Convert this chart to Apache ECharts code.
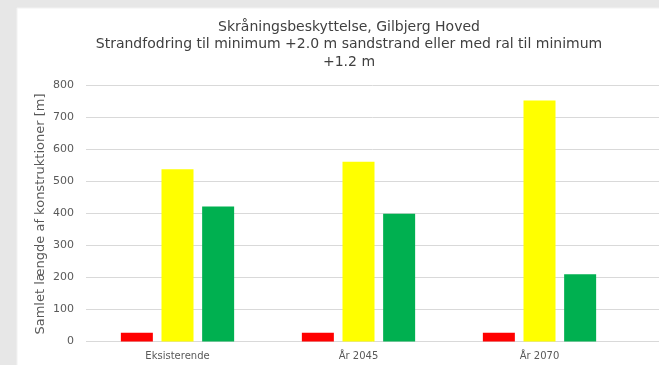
<!DOCTYPE html>
<html>
<head>
<meta charset="utf-8">
<script src="https://cdn.jsdelivr.net/npm/echarts@6/dist/echarts.min.js"></script>
<style>
  html, body { margin: 0; padding: 0; background: #e7e7e7; }
  #chart { width: 659px; height: 365px; }
</style>
</head>
<body>
<div id="chart"></div>
<script>
// Categories and series values (metres of structures)
const categories = ['Eksisterende', 'År 2045', 'År 2070'];
const redValues = [27, 27, 27];
const yellowValues = [538, 562, 753];
const greenValues = [422, 399, 210];
const yTicks = [0, 100, 200, 300, 400, 500, 600, 700, 800];

const titleLines = [
  'Skråningsbeskyttelse, Gilbjerg Hoved',
  'Strandfodring til minimum +2.0 m sandstrand eller med ral til minimum',
  '+1.2 m'
];
const yAxisTitle = 'Samlet længde af konstruktioner [m]';

const chart = echarts.init(document.getElementById('chart'), null, { renderer: 'canvas' });

const textColor = '#595959';
const gridColor = '#d9d9d9';

const option = {
  backgroundColor: '#e7e7e7',
  animation: false,
  graphic: [
    { type: 'rect', z: -10, shape: { x: 17, y: 8, width: 700, height: 400 },
      style: { fill: '#ffffff', stroke: '#f2f2f2', lineWidth: 1 } },
    ...titleLines.map((t, i) => ({
      type: 'text', x: 349, y: 27 + i * 17.5,
      style: { text: t, fill: '#404040', font: '14px "DejaVu Sans"', textAlign: 'center', textVerticalAlign: 'middle' }
    })),
    { type: 'text', x: 41, y: 214, rotation: Math.PI / 2,
      style: { text: yAxisTitle, fill: textColor, font: '13px "DejaVu Sans"', textAlign: 'center', textVerticalAlign: 'middle' } }
  ],
  grid: [
    { left: 86, top: 85.5, width: 573, height: 256 },
    { left: 87, top: 85.5, width: 543, height: 256 }
  ],
  xAxis: [
    { gridIndex: 0, type: 'category', data: categories, show: false },
    { gridIndex: 1, type: 'category', data: categories,
      axisLine: { show: false }, axisTick: { show: false },
      axisLabel: { color: textColor, fontFamily: 'DejaVu Sans', fontSize: 10, margin: 10 } }
  ],
  yAxis: [
    { gridIndex: 0, type: 'value', min: yTicks[0], max: yTicks[yTicks.length - 1], interval: 100,
      axisLine: { show: false }, axisTick: { show: false },
      splitLine: { lineStyle: { color: gridColor, width: 1 } },
      axisLabel: { color: textColor, fontFamily: 'DejaVu Sans', fontSize: 11, margin: 12 } },
    { gridIndex: 1, type: 'value', min: yTicks[0], max: yTicks[yTicks.length - 1], interval: 100,
      show: false, splitLine: { show: false } }
  ],
  series: [
    { type: 'bar', xAxisIndex: 1, yAxisIndex: 1, data: redValues, barWidth: 32, barGap: '27%',
      itemStyle: { color: '#ff0000' } },
    { type: 'bar', xAxisIndex: 1, yAxisIndex: 1, data: yellowValues, barWidth: 32, barGap: '27%',
      itemStyle: { color: '#ffff00' } },
    { type: 'bar', xAxisIndex: 1, yAxisIndex: 1, data: greenValues, barWidth: 32, barGap: '27%',
      itemStyle: { color: '#00b050' } }
  ]
};

chart.setOption(option);
</script>
</body>
</html>
